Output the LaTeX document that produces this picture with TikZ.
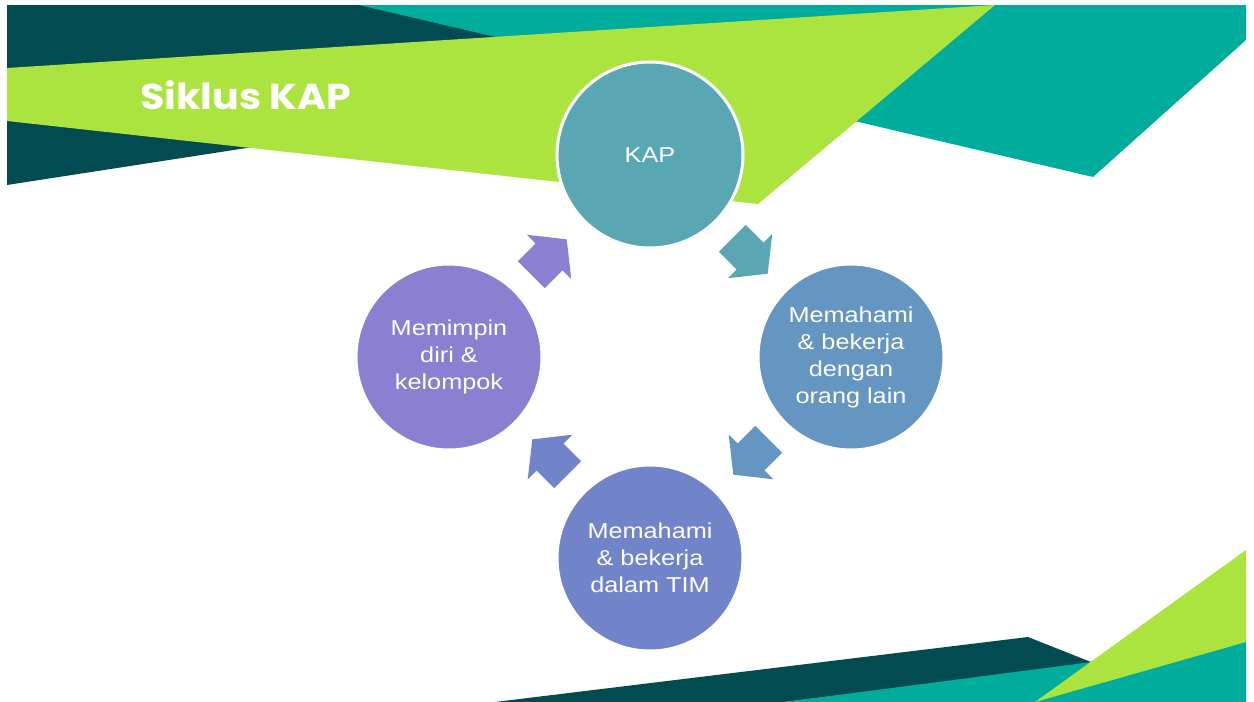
\documentclass[tikz,border=0pt]{standalone}
\usepackage{fontspec}
\setmainfont{Liberation Sans}
\newfontfamily\circfont{Liberation Sans}[FakeStretch=1.17]
\newfontfamily\titlefont{Poppins}[FakeStretch=1.1]
\definecolor{darkteal}{HTML}{024B50}
\definecolor{tealc}{HTML}{00AC9B}
\definecolor{limec}{HTML}{ACE43F}
\definecolor{ckap}{HTML}{5AA7B4}
\definecolor{cright}{HTML}{6496C1}
\definecolor{cbottom}{HTML}{7183C9}
\definecolor{cleft}{HTML}{8A80D2}
\tikzset{
  cyclenode/.style={circle, minimum size=93pt, inner sep=0pt, draw=white, line width=1.5pt,
    text=white, align=center, font=\circfont\fontsize{10.8pt}{13.5pt}\selectfont},
  cyclearrow/.pic={\fill[pic actions] (-25,-19) -- (0,-19) -- (0,-31.5) -- (25,0) -- (0,31.5) -- (0,19) -- (-25,19) -- cycle;}
}
\begin{document}
\begin{tikzpicture}[x=0.5pt,y=-0.5pt]
\useasboundingbox (0,0) rectangle (1254,702);
\fill[white] (0,0) rectangle (1254,702);
% top-left decoration
\fill[darkteal] (7,5) -- (700,5) -- (700,95) -- (253,147) -- (7,185) -- cycle;
\fill[tealc] (359,5) -- (1246,5) -- (1246,40) -- (1093,177) -- (620,66) -- cycle;
\fill[limec] (7,68) -- (995,5) -- (758,204) -- (7,121) -- cycle;
% bottom-right decoration
\fill[darkteal] (495,702) -- (1028,637) -- (1096,664) -- (784,702) -- cycle;
\fill[tealc] (784,702) -- (1092,662) -- (1246,642) -- (1246,702) -- cycle;
\fill[limec] (1035,702) -- (1246,550) -- (1246,642) -- cycle;
% title
\node[anchor=base west, inner sep=0pt, text=white, font=\titlefont\bfseries\fontsize{18pt}{20pt}\selectfont] (title) at (140,109) {Siklus KAP};
% circles
\node[cyclenode, fill=ckap] (kap) at (650,155) {KAP};
\node[cyclenode, fill=cright] (right) at (851,357) {Memahami\\\& bekerja\\dengan\\orang lain};
\node[cyclenode, fill=cbottom] (bottom) at (650,558) {Memahami\\\& bekerja\\dalam TIM};
\node[cyclenode, fill=cleft] (left) at (449,357) {Memimpin\\diri \&\\kelompok};
% arrows
\pic[fill=ckap, rotate=-45] at (750,256) {cyclearrow};
\pic[fill=cright, rotate=-135] at (751,457) {cyclearrow};
\pic[fill=cbottom, rotate=135] at (550,457) {cyclearrow};
\pic[fill=cleft, rotate=45] at (549,257) {cyclearrow};
\end{tikzpicture}
\end{document}
